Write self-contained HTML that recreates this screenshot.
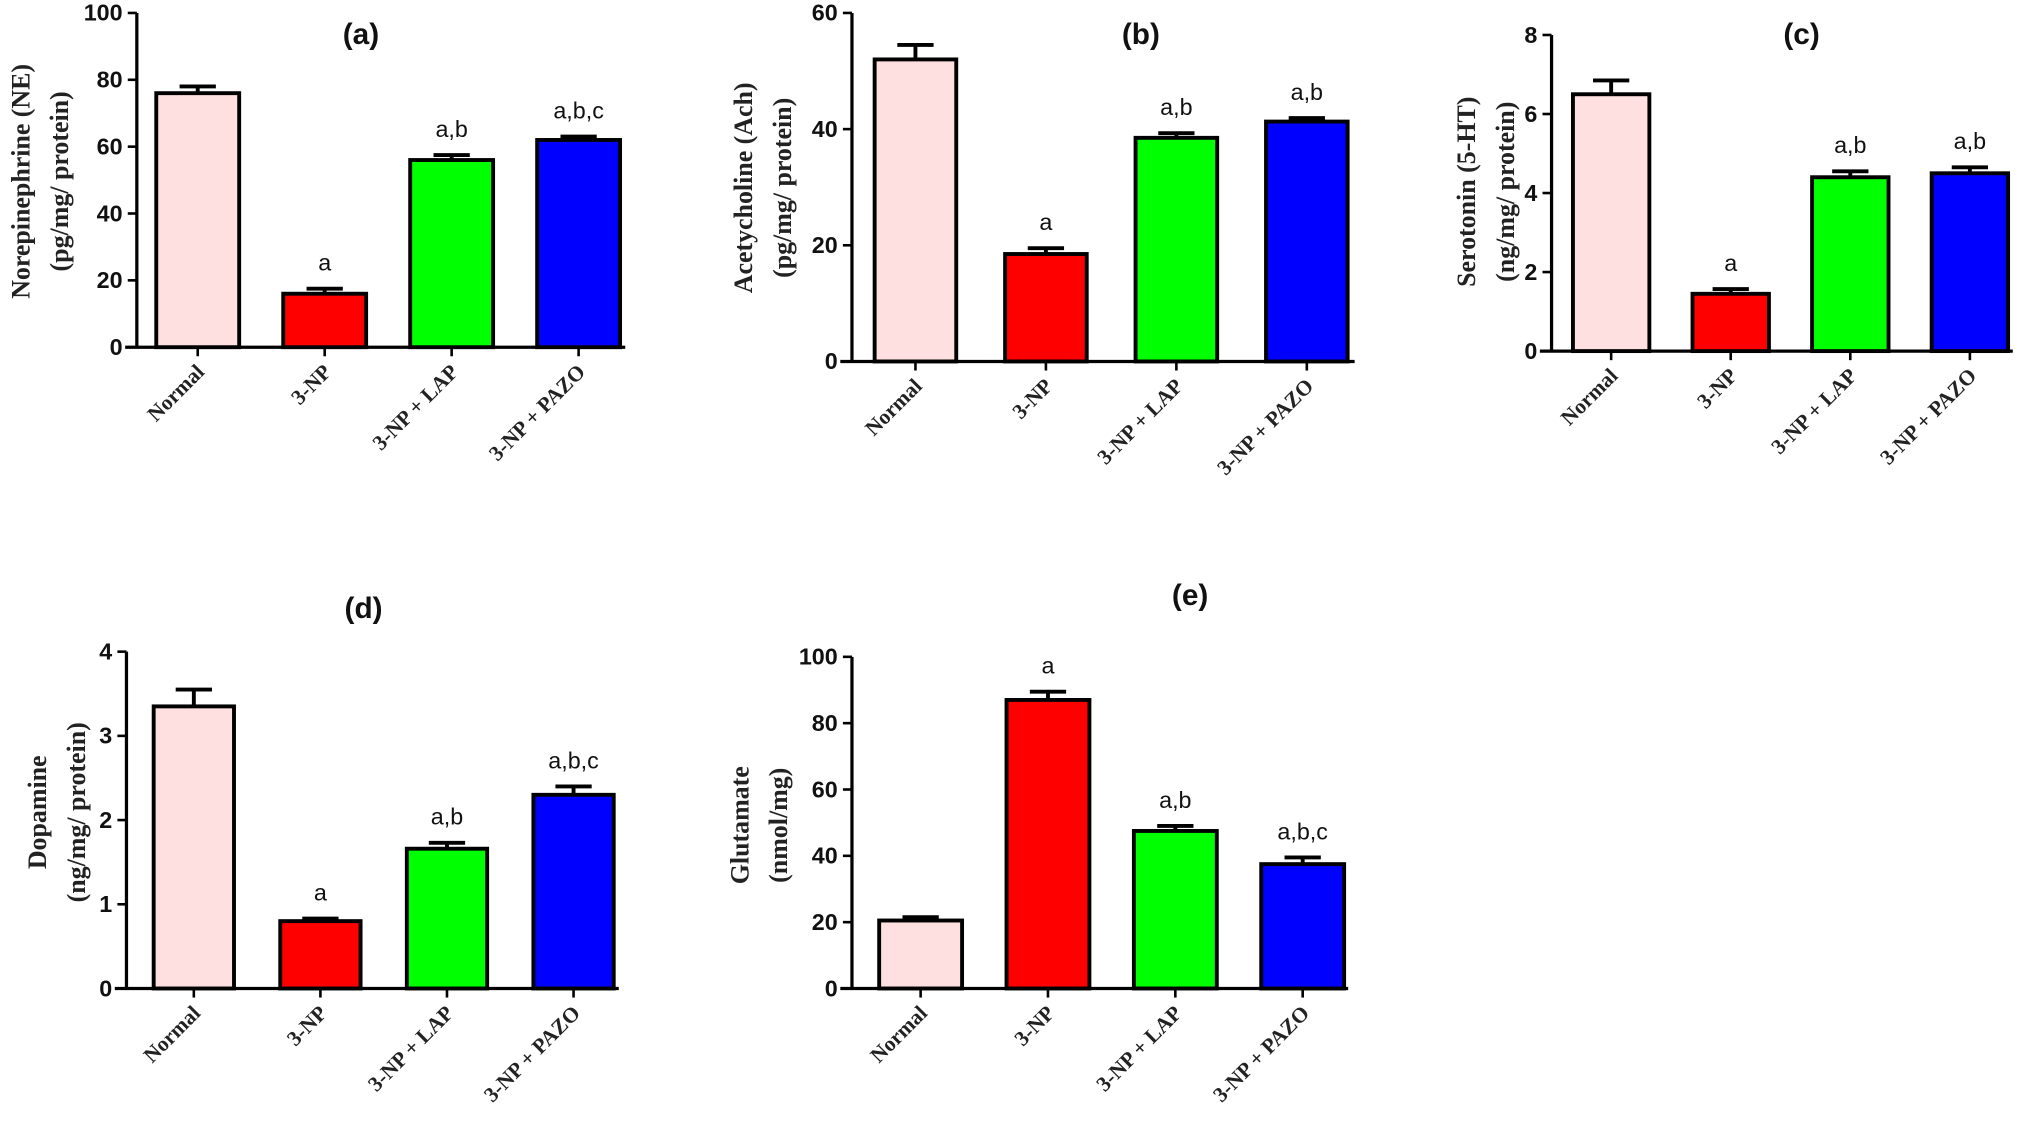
<!DOCTYPE html>
<html><head><meta charset="utf-8"><style>
html,body{margin:0;padding:0;background:#fff}
svg{display:block}
.tk{font-family:"Liberation Sans",sans-serif;font-weight:bold;font-size:18px;fill:#111}
.cat{font-family:"Liberation Serif",serif;font-weight:bold;font-size:16.5px;fill:#222}
.yt{font-family:"Liberation Serif",serif;font-weight:bold;font-size:20px;fill:#222}
.ttl{font-family:"Liberation Sans",sans-serif;font-weight:bold;font-size:23px;fill:#111}
.sig{font-family:"Liberation Sans",sans-serif;font-size:18px;fill:#111}
</style></head><body>
<svg id="root" width="2033" height="1131" viewBox="0 0 1568 873" xmlns="http://www.w3.org/2000/svg"></svg>
<script>
const categories = ["Normal","3-NP","3-NP + LAP","3-NP + PAZO"];
const colors = ["#fde0df","#ff0000","#00ff00","#0000ff"];
const neValues = [76,16,56,62];
const neErrors = [2,1.5,1.5,1];
const neSig = ["","a","a,b","a,b,c"];
const neTicks = [0,20,40,60,80,100];
const achValues = [52,18.5,38.5,41.3];
const achErrors = [2.5,1,0.8,0.6];
const achSig = ["","a","a,b","a,b"];
const achTicks = [0,20,40,60];
const htValues = [6.5,1.45,4.4,4.5];
const htErrors = [0.35,0.12,0.15,0.15];
const htSig = ["","a","a,b","a,b"];
const htTicks = [0,2,4,6,8];
const daValues = [3.35,0.8,1.66,2.3];
const daErrors = [0.2,0.03,0.07,0.1];
const daSig = ["","a","a,b","a,b,c"];
const daTicks = [0,1,2,3,4];
const gluValues = [20.5,87,47.5,37.5];
const gluErrors = [1,2.5,1.5,2];
const gluSig = ["","a","a,b","a,b,c"];
const gluTicks = [0,20,40,60,80,100];

const NS = "http://www.w3.org/2000/svg";
const root = document.getElementById('root');
function mk(tag, attrs, parent, text){
  const e = document.createElementNS(NS, tag);
  for (const k in attrs) e.setAttribute(k, attrs[k]);
  if (text !== undefined) e.textContent = text;
  parent.appendChild(e);
  return e;
}
function panel(p){
  const g = mk('g', {}, root);
  
  
  const max = p.ticks[p.ticks.length-1];
  const y = v => p.y0 - (v / max) * (p.y0 - p.yTop);
  const x = i => p.xStart + i * p.step;
  const t = mk('text', {x:p.tx, y:p.ty, 'text-anchor':'middle', class:'ttl'}, g, '(' + p.id + ')');
  
  
  const yt = mk('text', {class:'yt', 'text-anchor':'middle', transform:'translate(' + p.ytx + ',' + p.yty + ') rotate(-90)'}, g);
  
  
  mk('tspan', {x:0, y:0}, yt, p.yt1);
  mk('tspan', {x:0, dy:30}, yt, p.yt2);
  p.values.forEach((v, i) => {
    const cx = x(i);
    const b = mk('rect', {x:cx - p.bw/2, y:y(v), width:p.bw, height:p.y0 - y(v), fill:colors[i], stroke:'#000', 'stroke-width':3}, g);
    
    
    const ye = y(v + p.errors[i]);
    const eb = mk('path', {d:'M' + cx + ' ' + y(v) + 'V' + ye + 'M' + (cx - 14) + ' ' + ye + 'H' + (cx + 14), stroke:'#000', 'stroke-width':3, fill:'none'}, g);
    
    
    if (p.sig[i]) {
      const s = mk('text', {x:cx, y:ye - 14, 'text-anchor':'middle', class:'sig'}, g, p.sig[i]);
      
      
    }
    const tk = mk('line', {x1:cx, x2:cx, y1:p.y0, y2:p.y0 + 7, stroke:'#000', 'stroke-width':2}, g);
    
    
    const c = mk('text', {class:'cat', 'text-anchor':'end', transform:'translate(' + (cx + 6) + ',' + (p.y0 + 20) + ') rotate(-45)'}, g, categories[i]);
    
    
  });
  const ax = mk('path', {d:'M' + p.ax + ' ' + p.yTop + 'V' + p.y0 + 'M' + (p.ax - 9) + ' ' + p.y0 + 'H' + p.axEnd, stroke:'#000', 'stroke-width':2.5, fill:'none'}, g);
  
  
  p.ticks.forEach(v => {
    const l = mk('line', {x1:p.ax - 7, x2:p.ax, y1:y(v), y2:y(v), stroke:'#000', 'stroke-width':2}, g);
    
    
    const tl = mk('text', {x:p.ax - 11, y:y(v) + 6, 'text-anchor':'end', class:'tk'}, g, String(v));
    
    
  });
}
panel({id:'a', values:neValues, errors:neErrors, sig:neSig, ticks:neTicks, ax:105, axEnd:482, yTop:10, y0:268, xStart:152, step:98, bw:64, tx:278, ty:34, ytx:22, yty:140, yt1:'Norepinephrine (NE)', yt2:'(pg/mg/ protein)'});
panel({id:'b', values:achValues, errors:achErrors, sig:achSig, ticks:achTicks, ax:657, axEnd:1045, yTop:10, y0:279, xStart:706, step:100.7, bw:63, tx:880, ty:34, ytx:580, yty:145, yt1:'Acetycholine (Ach)', yt2:'(pg/mg/ protein)'});
panel({id:'c', values:htValues, errors:htErrors, sig:htSig, ticks:htTicks, ax:1197, axEnd:1553, yTop:27, y0:271, xStart:1243, step:92.3, bw:59, tx:1390, ty:34, ytx:1138, yty:148, yt1:'Serotonin (5-HT)', yt2:'(ng/mg/ protein)'});
panel({id:'d', values:daValues, errors:daErrors, sig:daSig, ticks:daTicks, ax:97, axEnd:477, yTop:503, y0:763, xStart:149, step:97.7, bw:62, tx:280, ty:477, ytx:35, yty:627, yt1:'Dopamine', yt2:'(ng/mg/ protein)'});
panel({id:'e', values:gluValues, errors:gluErrors, sig:gluSig, ticks:gluTicks, ax:657, axEnd:1040, yTop:507, y0:763, xStart:710, step:98.3, bw:64, tx:918, ty:467, ytx:577, yty:637, yt1:'Glutamate', yt2:'(nmol/mg)'});
</script>
</body></html>
